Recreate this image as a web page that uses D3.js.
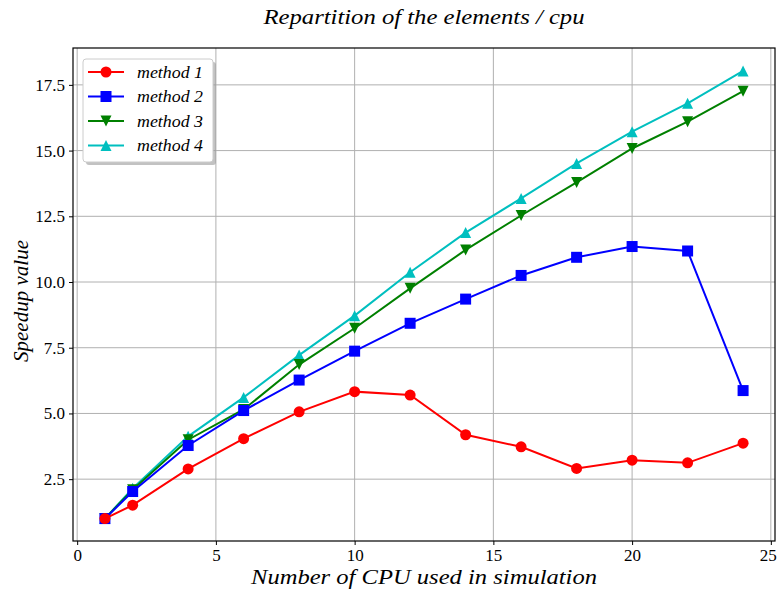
<!DOCTYPE html>
<html><head><meta charset="utf-8">
<script src="https://cdn.jsdelivr.net/npm/d3@7"></script>
<style>body{margin:0;background:#fff}svg{display:block}text{font-family:"Liberation Serif","DejaVu Serif",serif}</style>
</head><body>
<script>
const cpus = [1, 2, 4, 6, 8, 10, 12, 14, 16, 18, 20, 22, 24];
const method1 = [1.0, 1.51, 2.89, 4.04, 5.06, 5.83, 5.70, 4.19, 3.73, 2.91, 3.22, 3.12, 3.87];
const method2 = [1.0, 2.03, 3.78, 5.11, 6.27, 7.37, 8.43, 9.35, 10.25, 10.94, 11.35, 11.18, 5.87];
const method3 = [1.0, 2.10, 4.00, 5.15, 6.86, 8.24, 9.76, 11.22, 12.53, 13.79, 15.08, 16.10, 17.26];
const method4 = [1.0, 2.15, 4.13, 5.61, 7.22, 8.72, 10.37, 11.88, 13.18, 14.51, 15.72, 16.80, 18.03];
const seriesNames = ["method 1", "method 2", "method 3", "method 4"];
const seriesColors = ["#ff0000", "#0000ff", "#008000", "#00bfbf"];
const seriesMarkers = ["circle", "square", "tridown", "triup"];
const xTicks = [0, 5, 10, 15, 20, 25];
const yTicks = [2.5, 5.0, 7.5, 10.0, 12.5, 15.0, 17.5];
const titleText = "Repartition of the elements / cpu";
const xLabel = "Number of CPU used in simulation";
const yLabel = "Speedup value";

const W = 777, H = 592;
const m = {left: 73, right: 2, top: 48, bottom: 51};
const svg = d3.select("body").append("svg").attr("width", W).attr("height", H);
const x = d3.scaleLinear().domain([-0.15, 25.15]).range([m.left, W - m.right]);
const y = d3.scaleLinear().domain([0.1475, 18.9025]).range([H - m.bottom, m.top]);

// grid
const g = svg.append("g");
g.selectAll(".gx").data(xTicks).join("line").attr("x1", d => x(d)).attr("x2", d => x(d))
  .attr("y1", y.range()[0]).attr("y2", y.range()[1]).attr("stroke", "#b0b0b0").attr("stroke-width", 1);
g.selectAll(".gy").data(yTicks).join("line").attr("y1", d => y(d)).attr("y2", d => y(d))
  .attr("x1", x.range()[0]).attr("x2", x.range()[1]).attr("stroke", "#b0b0b0").attr("stroke-width", 1);

// axes
const xAxis = d3.axisBottom(x).tickValues(xTicks).tickFormat(d3.format("d")).tickSize(4).tickPadding(4);
const yAxis = d3.axisLeft(y).tickValues(yTicks).tickFormat(d3.format(".1f")).tickSize(4).tickPadding(4);
const gx = svg.append("g").attr("transform", `translate(0,${y.range()[0]})`).call(xAxis);
const gy = svg.append("g").attr("transform", `translate(${x.range()[0]},0)`).call(yAxis);
[gx, gy].forEach(a => {
  a.select(".domain").remove();
  a.selectAll("text").attr("font-size", 17).attr("fill", "#000").style("font-family", '"Liberation Serif",serif');
  a.selectAll("line").attr("stroke", "#000").attr("stroke-width", 1);
});
gx.selectAll("text").filter(d => d === 25).attr("dx", -3);
// frame
svg.append("rect").attr("x", x.range()[0]).attr("y", y.range()[1])
  .attr("width", x.range()[1] - x.range()[0]).attr("height", y.range()[0] - y.range()[1])
  .attr("fill", "none").attr("stroke", "#000").attr("stroke-width", 1.2);

const all = [method1, method2, method3, method4];
const ms = 11;
function marker(sel, type, color) {
  if (type === "circle") sel.append("circle").attr("r", ms / 2).attr("fill", color);
  else if (type === "square") sel.append("rect").attr("x", -ms / 2).attr("y", -ms / 2).attr("width", ms).attr("height", ms).attr("fill", color);
  else if (type === "tridown") sel.append("path").attr("d", `M${-ms/2},${-ms/2}L${ms/2},${-ms/2}L0,${ms/2}Z`).attr("fill", color);
  else sel.append("path").attr("d", `M${-ms/2},${ms/2}L${ms/2},${ms/2}L0,${-ms/2}Z`).attr("fill", color);
}
const line = d3.line().x((d, i) => x(cpus[i])).y(d => y(d));
// drawn from method 4 down to method 1 so method 1 lies on top
[3, 2, 1, 0].forEach(k => {
  const vals = all[k];
  const sg = svg.append("g");
  sg.append("path").datum(vals).attr("d", line).attr("fill", "none")
    .attr("stroke", seriesColors[k]).attr("stroke-width", 2);
  vals.forEach((v, i) => {
    const mg = sg.append("g").attr("transform", `translate(${x(cpus[i])},${y(v)})`);
    marker(mg, seriesMarkers[k], seriesColors[k]);
  });
});

// legend
const lg = svg.append("g").attr("transform", "translate(83,59)");
lg.append("rect").attr("x", 3).attr("y", 3).attr("width", 130).attr("height", 103).attr("rx", 3).attr("fill", "#999").attr("opacity", 0.6);
lg.append("rect").attr("width", 130).attr("height", 103).attr("rx", 3).attr("fill", "#fff").attr("stroke", "#ccc").attr("stroke-width", 1);
seriesNames.forEach((n, k) => {
  const yy = 13 + k * 24.5;
  lg.append("line").attr("x1", 5).attr("x2", 41).attr("y1", yy).attr("y2", yy).attr("stroke", seriesColors[k]).attr("stroke-width", 2);
  const mg = lg.append("g").attr("transform", `translate(23,${yy})`);
  marker(mg, seriesMarkers[k], seriesColors[k]);
  lg.append("text").attr("x", 54).attr("y", yy).attr("dy", "0.35em").attr("font-size", 17).attr("font-style", "italic")
    .attr("textLength", 66).attr("lengthAdjust", "spacingAndGlyphs").text(n);
});

// labels
svg.append("text").attr("x", (x.range()[0] + x.range()[1]) / 2).attr("y", 24).attr("text-anchor", "middle")
  .attr("font-size", 20).attr("font-style", "italic").attr("textLength", 321).attr("lengthAdjust", "spacingAndGlyphs").text(titleText);
svg.append("text").attr("x", 424).attr("y", 584).attr("text-anchor", "middle")
  .attr("font-size", 22).attr("font-style", "italic").attr("textLength", 346).attr("lengthAdjust", "spacingAndGlyphs").text(xLabel);
svg.append("text").attr("transform", `translate(28,301) rotate(-90)`).attr("text-anchor", "middle")
  .attr("font-size", 22).attr("font-style", "italic").attr("textLength", 122).attr("lengthAdjust", "spacingAndGlyphs").text(yLabel);
</script>
</body></html>
